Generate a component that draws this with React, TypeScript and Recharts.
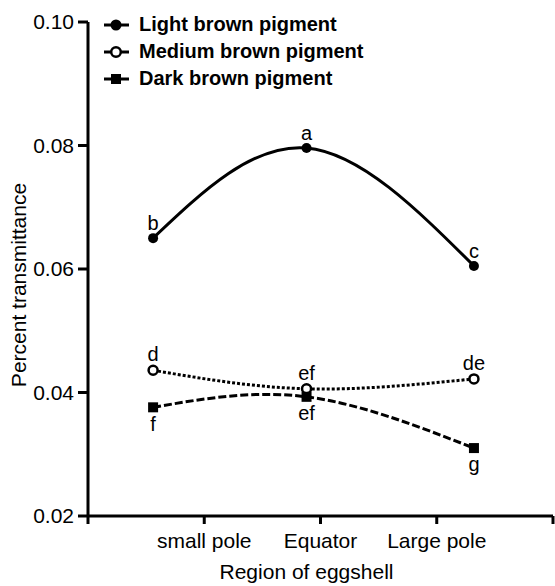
import { LineChart, Line, XAxis, YAxis, Legend, LabelList, Label } from "recharts";

document.body.style.margin = "0";

const FONT = '"Liberation Sans", Arial, Helvetica, sans-serif';

// categories and where the points sit on the x scale (ticks 1..3)
const REGIONS = ["small pole", "Equator", "Large pole"];
const REGION_X = [0.56, 1.88, 3.32];
const X_TICKS = [0, 1, 2, 3, 4];
const Y_TICKS = [0.02, 0.04, 0.06, 0.08, 0.1];

const LIGHT = [0.065, 0.0796, 0.0605];
const MEDIUM = [0.0436, 0.0406, 0.0422];
const DARK = [0.0376, 0.0393, 0.031];

const LIGHT_LETTERS = ["b", "a", "c"];
const MEDIUM_LETTERS = ["d", "ef", "de"];
const DARK_LETTERS = ["f", "ef", "g"];

const SERIES_NAMES = ["Light brown pigment", "Medium brown pigment", "Dark brown pigment"];

const data = REGION_X.map((x, i) => ({
  x,
  light: LIGHT[i],
  medium: MEDIUM[i],
  dark: DARK[i],
  lightTag: LIGHT_LETTERS[i],
  mediumTag: MEDIUM_LETTERS[i],
  darkTag: DARK_LETTERS[i],
}));

const axisText = { fill: "#000", fontSize: 21, fontFamily: FONT };
const tagText = { fill: "#000", fontSize: 20, fontFamily: FONT };

function SquareDot(props: any) {
  const { cx, cy } = props;
  if (cx == null || cy == null) return null;
  return <rect x={cx - 5} y={cy - 5} width={10} height={10} fill="#000" />;
}

function LegendMarker({ kind }: { kind: number }) {
  return (
    <svg width={28} height={14} style={{ marginRight: 8 }}>
      <line x1={1} y1={7} x2={26} y2={7} stroke="#000" strokeWidth={3} />
      {kind === 0 && <circle cx={13} cy={7} r={5.5} fill="#000" />}
      {kind === 1 && <circle cx={13} cy={7} r={4.8} fill="#fff" stroke="#000" strokeWidth={2.5} />}
      {kind === 2 && <rect x={8} y={2} width={10} height={10} fill="#000" />}
    </svg>
  );
}

function renderLegend() {
  return (
    <div style={{ fontFamily: FONT, fontSize: 20, fontWeight: "bold", color: "#000", lineHeight: "27px" }}>
      {SERIES_NAMES.map((name, i) => (
        <div key={name} style={{ display: "flex", alignItems: "center", height: 27 }}>
          <LegendMarker kind={i} />
          <span>{name}</span>
        </div>
      ))}
    </div>
  );
}

export default function App() {
  return (
    <LineChart width={555} height={586} data={data} margin={{ top: 22, right: 2, left: 0, bottom: 0 }}>
      <XAxis
        dataKey="x"
        type="number"
        domain={[0, 4]}
        ticks={X_TICKS}
        tickFormatter={(v: number) => (v >= 1 && v <= 3 ? REGIONS[v - 1] : "")}
        tick={axisText}
        height={70}
        stroke="#000"
        strokeWidth={3}
        tickSize={8}
        tickMargin={9}
        interval={0}
      >
        <Label
          content={({ viewBox }: any) => (
            <text
              x={viewBox.x + viewBox.width / 2 - 14}
              y={viewBox.y + 63}
              textAnchor="middle"
              fontSize={21}
              fontFamily={FONT}
              fill="#000"
            >
              Region of eggshell
            </text>
          )}
        />
      </XAxis>
      <YAxis
        type="number"
        domain={[0.02, 0.1]}
        ticks={Y_TICKS}
        tickFormatter={(v: number) => v.toFixed(2)}
        tick={axisText}
        width={88}
        stroke="#000"
        strokeWidth={3}
        tickSize={10}
        tickMargin={4}
        interval={0}
      >
        <Label
          content={({ viewBox }: any) => {
            const cy = viewBox.y + viewBox.height / 2 + 16;
            return (
              <text
                x={18}
                y={cy}
                transform={`rotate(-90 18 ${cy})`}
                textAnchor="middle"
                dominantBaseline="central"
                fontSize={21}
                fontFamily={FONT}
                fill="#000"
              >
                Percent transmittance
              </text>
            );
          }}
        />
      </YAxis>
      <Legend
        layout="vertical"
        align="center"
        verticalAlign="middle"
        content={renderLegend}
        wrapperStyle={{ top: 11, left: 103, width: 300 }}
      />
      <Line
        type="natural"
        dataKey="light"
        stroke="#000"
        strokeWidth={3}
        dot={{ r: 5, fill: "#000", stroke: "#000", strokeWidth: 0 }}
        isAnimationActive={false}
      >
        <LabelList dataKey="lightTag" position="top" offset={8} style={tagText} />
      </Line>
      <Line
        type="natural"
        dataKey="medium"
        stroke="#000"
        strokeWidth={3}
        strokeDasharray="3 2"
        dot={{ r: 4.5, fill: "#fff", stroke: "#000", strokeWidth: 2.5, strokeDasharray: "" }}
        isAnimationActive={false}
      >
        <LabelList dataKey="mediumTag" position="top" offset={9} style={tagText} />
      </Line>
      <Line
        type="natural"
        dataKey="dark"
        stroke="#000"
        strokeWidth={3}
        strokeDasharray="8 3"
        dot={<SquareDot />}
        isAnimationActive={false}
      >
        <LabelList dataKey="darkTag" position="bottom" offset={9} style={tagText} />
      </Line>
    </LineChart>
  );
}
